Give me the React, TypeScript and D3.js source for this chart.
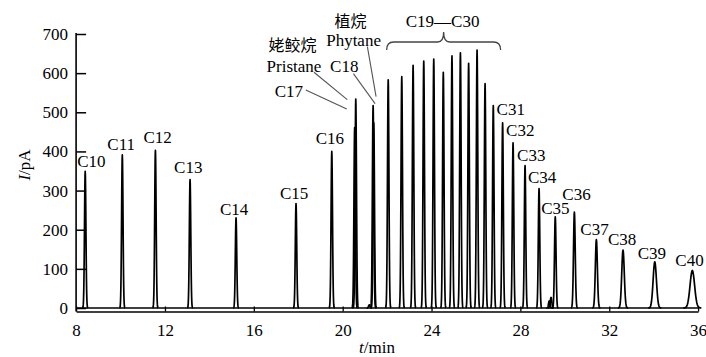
import React, { useEffect, useRef } from 'react';
import * as d3 from 'd3';

// n-alkane peaks
const alkaneNames = ['C10', 'C11', 'C12', 'C13', 'C14', 'C15', 'C16', 'C17', 'C18', 'C19', 'C20', 'C21', 'C22', 'C23', 'C24', 'C25', 'C26', 'C27', 'C28', 'C29', 'C30', 'C31', 'C32', 'C33', 'C34', 'C35', 'C36', 'C37', 'C38', 'C39', 'C40'];
const alkaneTimes = [8.41, 10.08, 11.57, 13.13, 15.2, 17.9, 19.51, 20.59, 21.37, 22.05, 22.66, 23.17, 23.65, 24.1, 24.53, 24.92, 25.3, 25.67, 26.05, 26.41, 26.78, 27.2, 27.67, 28.21, 28.84, 29.57, 30.43, 31.42, 32.62, 34.05, 35.74];
const alkaneHeights = [349, 391, 403, 328, 230, 267, 400, 534, 517, 583, 591, 620, 631, 636, 602, 644, 652, 625, 659, 573, 517, 473, 422, 364, 305, 233, 245, 175, 148, 118, 96];

// isoprenoids
const isoNames = ['Pristane', 'Phytane'];
const isoNamesCn = ['姥鲛烷', '植烷'];
const isoTimes = [20.54, 21.4];
const isoHeights = [461, 473];

// small unlabelled peaks
const minorTimes = [21.2, 29.3, 29.38];
const minorHeights = [8, 18, 27];

const groupLabel = 'C19\u2014C30';
const groupRange = [21.98, 27.11];

const xTicks = [8, 12, 16, 20, 24, 28, 32, 36];
const yTicks = [0, 100, 200, 300, 400, 500, 600, 700];

// label offsets from each peak apex (px), null = covered by the group brace
const labelOffsets = [
    [-8, -4], [-15, -5], [-12, -7], [-16, -7], [-16, -3], [-16, -4], [-16, -7], [-81, -2], [-43, -34],
    null, null, null, null, null, null, null, null, null, null, null, null,
    [-6, -8], [-7, -7], [-8, -5], [-11, -6], [-14, -3], [-12, -12], [-16, -5], [-15, -5], [-17, -3], [-17, -4],
];

const W = 706;
const H = 357;
const serif = "'Liberation Serif', Tinos, 'Times New Roman', Times, 'DejaVu Serif', serif";
const cjk = "'Noto Sans CJK SC', sans-serif";

export default function App() {
    const svgRef = useRef<SVGSVGElement>(null);

    useEffect(() => {
        if (!svgRef.current) return;
        const svg = d3.select(svgRef.current);
        svg.selectAll('*').remove();

        const x = d3.scaleLinear().domain([8, 36]).range([76.1, 698.1]);
        const y = d3.scaleLinear().domain([0, 700]).range([308, 34]);
        const axisY = 311.5;

        const peaks = [
            ...alkaneTimes.map((t, i) => ({ t, h: alkaneHeights[i] })),
            ...isoTimes.map((t, i) => ({ t, h: isoHeights[i] })),
            ...minorTimes.map((t, i) => ({ t, h: minorHeights[i] })),
        ];

        // peak width grows in the late, slow part of the run
        const sigma = (t: number) => (t < 28 ? 0.032 : 0.032 + 0.075 * Math.pow((t - 28) / 8, 2));

        const line = d3.line<[number, number]>()
            .x(d => x(d[0]))
            .y(d => y(d[1]));

        const trace = svg.append('g')
            .attr('fill', 'none')
            .attr('stroke', '#000')
            .attr('stroke-linejoin', 'round');

        trace.append('path')
            .attr('d', line([[8, 0], [36, 0]]))
            .attr('stroke-width', 1.6);

        trace.selectAll('.peak')
            .data(peaks)
            .enter()
            .append('path')
            .attr('class', 'peak')
            .attr('stroke-width', 1.7)
            .attr('d', p => {
                const s = sigma(p.t);
                const pts = d3.range(-4, 4.01, 0.25).map(k => [p.t + k * s, p.h * Math.exp(-k * k / 2)] as [number, number]);
                return line(pts);
            });

        // axes
        const yAxis = d3.axisLeft(y).tickValues(yTicks).tickSize(-10).tickSizeOuter(0).tickPadding(8);
        const yg = svg.append('g')
            .attr('transform', `translate(${x(8)},0)`)
            .call(yAxis);
        yg.select('.domain').remove();
        yg.selectAll('line').attr('stroke', '#000').attr('stroke-width', 1.5);
        yg.selectAll('text').attr('font-size', 17).style('font-family', serif).attr('fill', '#000');
        svg.append('line')
            .attr('x1', x(8)).attr('x2', x(8))
            .attr('y1', y(700) - 1).attr('y2', axisY)
            .attr('stroke', '#000').attr('stroke-width', 1.6);

        const xAxis = d3.axisBottom(x).tickValues(xTicks).tickSize(-5).tickSizeOuter(0).tickPadding(12);
        const xg = svg.append('g')
            .attr('transform', `translate(0,${axisY})`)
            .call(xAxis);
        xg.select('.domain').attr('stroke', '#000').attr('stroke-width', 1.6);
        xg.selectAll('line').attr('stroke', '#000').attr('stroke-width', 1.3);
        xg.selectAll('text').attr('font-size', 17).style('font-family', serif).attr('fill', '#000');

        // axis titles
        const yTitle = svg.append('text')
            .attr('transform', 'translate(30,165) rotate(-90)')
            .attr('text-anchor', 'middle')
            .style('font-family', serif)
            .attr('font-size', 17);
        yTitle.append('tspan').attr('font-style', 'italic').text('I');
        yTitle.append('tspan').text('/pA');

        const xTitle = svg.append('text')
            .attr('x', 377)
            .attr('y', 353)
            .attr('text-anchor', 'middle')
            .style('font-family', serif)
            .attr('font-size', 17);
        xTitle.append('tspan').attr('font-style', 'italic').text('t');
        xTitle.append('tspan').text('/min');

        // alkane labels
        const labels = svg.append('g')
            .style('font-family', serif)
            .attr('font-size', 17);
        alkaneNames.forEach((name, i) => {
            const off = labelOffsets[i];
            if (!off) return;
            labels.append('text')
                .attr('x', x(alkaneTimes[i]) + off[0])
                .attr('y', y(alkaneHeights[i]) + off[1])
                .text(name);
        });

        // leader lines for the crowded C17 / pristane / C18 / phytane region
        const apex = (t: number, h: number) => [x(t), y(h)];
        const [c17x, c17y] = apex(alkaneTimes[7], alkaneHeights[7]);
        const [c18x, c18y] = apex(alkaneTimes[8], alkaneHeights[8]);
        const [prx, pry] = apex(isoTimes[0], isoHeights[0]);
        const [phx, phy] = apex(isoTimes[1], isoHeights[1]);
        const leaders = [
            [c17x - 50, c17y - 9, c17x - 9, c17y + 10],
            [prx - 40.7, pry - 55.3, prx - 7.4, pry - 28],
            [c18x - 19.7, c18y - 32, c18x + 2, c18y - 2],
            [phx - 6.4, phy - 76.3, phx + 2.3, phy - 26.3],
        ];
        svg.append('g')
            .attr('stroke', '#555')
            .attr('stroke-width', 1.1)
            .selectAll('line')
            .data(leaders)
            .enter()
            .append('line')
            .attr('x1', d => d[0]).attr('y1', d => d[1])
            .attr('x2', d => d[2]).attr('y2', d => d[3]);

        const isoLabelPos = [[-60.7, -56, -62.2, -77], [-20.2, -77, -23.2, -95.5]];
        isoNames.forEach((name, i) => {
            const [px, py] = apex(isoTimes[i], isoHeights[i]);
            const o = isoLabelPos[i];
            svg.append('text')
                .attr('x', px + o[0]).attr('y', py + o[1])
                .attr('text-anchor', 'middle')
                .style('font-family', serif).attr('font-size', 17)
                .text(name);
            svg.append('text')
                .attr('x', px + o[2]).attr('y', py + o[3])
                .attr('text-anchor', 'middle')
                .style('font-family', cjk).attr('font-size', 16)
                .text(isoNamesCn[i]);
        });

        // brace over C19-C30
        const bl = x(groupRange[0]);
        const br = x(groupRange[1]);
        const bm = (bl + br) / 2;
        const bBot = 50;
        const bMid = 42;
        const bTop = 32;
        const brace = `M${bl},${bBot} Q${bl},${bMid} ${bl + 7},${bMid} L${bm - 6},${bMid} Q${bm},${bMid} ${bm},${bTop} ` +
            `Q${bm},${bMid} ${bm + 6},${bMid} L${br - 7},${bMid} Q${br},${bMid} ${br},${bBot}`;
        svg.append('path')
            .attr('d', brace)
            .attr('fill', 'none')
            .attr('stroke', '#444')
            .attr('stroke-width', 1.3);
        svg.append('text')
            .attr('x', bm - 1)
            .attr('y', 27)
            .attr('text-anchor', 'middle')
            .style('font-family', serif)
            .attr('font-size', 17)
            .text(groupLabel);
    }, []);

    return (
        <svg
            ref={svgRef}
            width={W}
            height={H}
            style={{ position: 'absolute', left: 0, top: 0, background: '#fff' }}
        />
    );
}
